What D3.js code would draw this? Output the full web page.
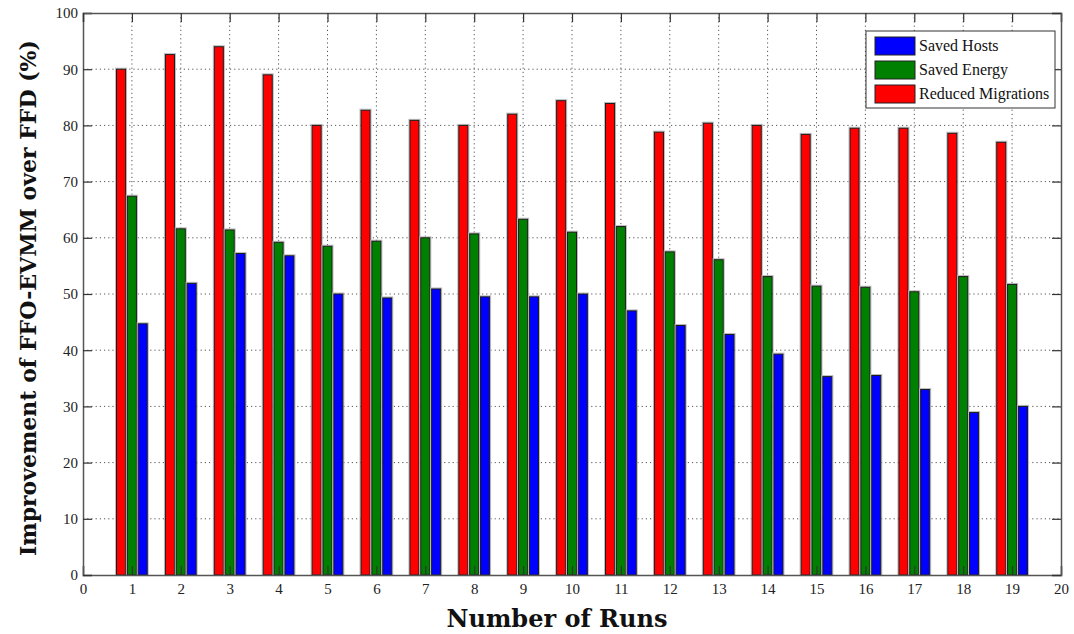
<!DOCTYPE html>
<html>
<head>
<meta charset="utf-8">
<script src="https://cdn.jsdelivr.net/npm/d3@7/dist/d3.min.js"></script>
<style>
  html, body { margin: 0; padding: 0; background: #fff; }
  svg { display: block; }
</style>
</head>
<body>
<svg id="chart" width="1074" height="634"></svg>
<script>
// Runs 1..19 and the three improvement measures (%)
const runs = [1, 2, 3, 4, 5, 6, 7, 8, 9, 10, 11, 12, 13, 14, 15, 16, 17, 18, 19];
const reducedMigrations = [90.0, 92.6, 94.0, 89.0, 80.0, 82.7, 80.9, 80.0, 82.0, 84.4, 83.9, 78.8, 80.4, 80.0, 78.4, 79.5, 79.5, 78.6, 77.0];
const savedEnergy = [67.4, 61.6, 61.4, 59.2, 58.5, 59.4, 60.0, 60.7, 63.3, 61.0, 62.0, 57.5, 56.1, 53.1, 51.4, 51.2, 50.4, 53.1, 51.7];
const savedHosts = [44.7, 51.9, 57.2, 56.8, 50.0, 49.3, 50.9, 49.5, 49.5, 50.0, 47.0, 44.4, 42.8, 39.3, 35.3, 35.5, 33.0, 28.9, 30.0];
const xTicks = d3.range(0, 21, 1);
const yTicks = d3.range(0, 101, 10);

const series = [
  { name: "Reduced Migrations", values: reducedMigrations, color: "#ff0000", offset: -0.222 },
  { name: "Saved Energy", values: savedEnergy, color: "#008000", offset: 0.0 },
  { name: "Saved Hosts", values: savedHosts, color: "#0000ff", offset: 0.222 }
];
const legendOrder = ["Saved Hosts", "Saved Energy", "Reduced Migrations"];

const svg = d3.select("#chart");
const plotLeft = 83, plotRight = 1061, plotTop = 13, plotBottom = 575;
const x = d3.scaleLinear().domain([0, 20]).range([plotLeft, plotRight]);
const y = d3.scaleLinear().domain([0, 100]).range([plotBottom, plotTop]);
const barW = x(0.185) - x(0);
const serif = "'Liberation Serif', 'DejaVu Serif', serif";
const titleFont = "'DejaVu Serif', 'Liberation Serif', serif";

// dotted grid
const grid = svg.append("g");
grid.selectAll("line.gx").data(xTicks.slice(1, -1)).join("line")
  .attr("x1", d => x(d)).attr("x2", d => x(d))
  .attr("y1", plotTop).attr("y2", plotBottom)
  .attr("stroke", "#555").attr("stroke-width", 1).attr("stroke-dasharray", "1.2,3");
grid.selectAll("line.gy").data(yTicks.slice(1, -1)).join("line")
  .attr("y1", d => y(d)).attr("y2", d => y(d))
  .attr("x1", plotLeft).attr("x2", plotRight)
  .attr("stroke", "#555").attr("stroke-width", 1).attr("stroke-dasharray", "1.2,3");

// bars
const bars = svg.append("g");
series.forEach(s => {
  const g = bars.append("g");
  g.selectAll("rect.halo").data(runs).join("rect")
    .attr("x", d => x(d + s.offset) - barW / 2 - 1)
    .attr("y", (d, i) => y(s.values[i]) - 1)
    .attr("width", barW + 2)
    .attr("height", (d, i) => y(0) - y(s.values[i]) + 1)
    .attr("fill", "none").attr("stroke", "#bbb").attr("stroke-width", 1);
  g.selectAll("rect.bar").data(runs).join("rect")
    .attr("x", d => x(d + s.offset) - barW / 2)
    .attr("y", (d, i) => y(s.values[i]))
    .attr("width", barW)
    .attr("height", (d, i) => y(0) - y(s.values[i]))
    .attr("fill", s.color).attr("stroke", "#1a1a1a").attr("stroke-width", 1);
});

// axes with inward ticks on all four sides
const tickLen = 9;
const axisColor = "#555";
const xAxis = d3.axisBottom(x).tickValues(xTicks).tickSize(-tickLen).tickPadding(8).tickFormat(d3.format("d"));
const yAxis = d3.axisLeft(y).tickValues(yTicks).tickSize(-tickLen).tickPadding(5).tickFormat(d3.format("d"));
const xTop = d3.axisTop(x).tickValues(xTicks).tickSize(-tickLen).tickFormat("");
const yRight = d3.axisRight(y).tickValues(yTicks).tickSize(-tickLen).tickFormat("");

function styleAxis(g) {
  g.select(".domain").attr("stroke", axisColor).attr("stroke-width", 1.5);
  g.selectAll(".tick line").attr("stroke", "#333").attr("stroke-width", 1.2);
  g.selectAll(".tick text").attr("fill", "#222").style("font-family", serif).style("font-size", "15px");
}
svg.append("g").attr("transform", `translate(0,${plotBottom})`).call(xAxis).call(styleAxis);
svg.append("g").attr("transform", `translate(${plotLeft},0)`).call(yAxis).call(styleAxis);
svg.append("g").attr("transform", `translate(0,${plotTop})`).call(xTop).call(styleAxis);
svg.append("g").attr("transform", `translate(${plotRight},0)`).call(yRight).call(styleAxis);

// axis titles
svg.append("text")
  .attr("x", 557).attr("y", 627)
  .attr("text-anchor", "middle")
  .style("font-family", titleFont).style("font-size", "24px").style("font-weight", "bold")
  .attr("fill", "#111")
  .text("Number of Runs");
svg.append("text")
  .attr("transform", `translate(36,${(plotTop + plotBottom) / 2 + 4}) rotate(-90)`)
  .attr("text-anchor", "middle")
  .style("font-family", titleFont).style("font-size", "22px").style("font-weight", "bold")
  .attr("fill", "#111")
  .text("Improvement of FFO-EVMM over FFD (%)");

// legend
const lg = svg.append("g");
lg.append("rect").attr("x", 866).attr("y", 31).attr("width", 189).attr("height", 77)
  .attr("fill", "#fff").attr("stroke", "#333").attr("stroke-width", 1);
legendOrder.forEach((name, i) => {
  const s = series.find(t => t.name === name);
  const cy = 46 + i * 24;
  lg.append("rect").attr("x", 875).attr("y", cy - 9).attr("width", 40).attr("height", 18)
    .attr("fill", s.color).attr("stroke", "#222").attr("stroke-width", 1);
  lg.append("text").attr("x", 919).attr("y", cy + 5)
    .style("font-family", serif).style("font-size", "16px").attr("fill", "#111")
    .text(name);
});
</script>
</body>
</html>
